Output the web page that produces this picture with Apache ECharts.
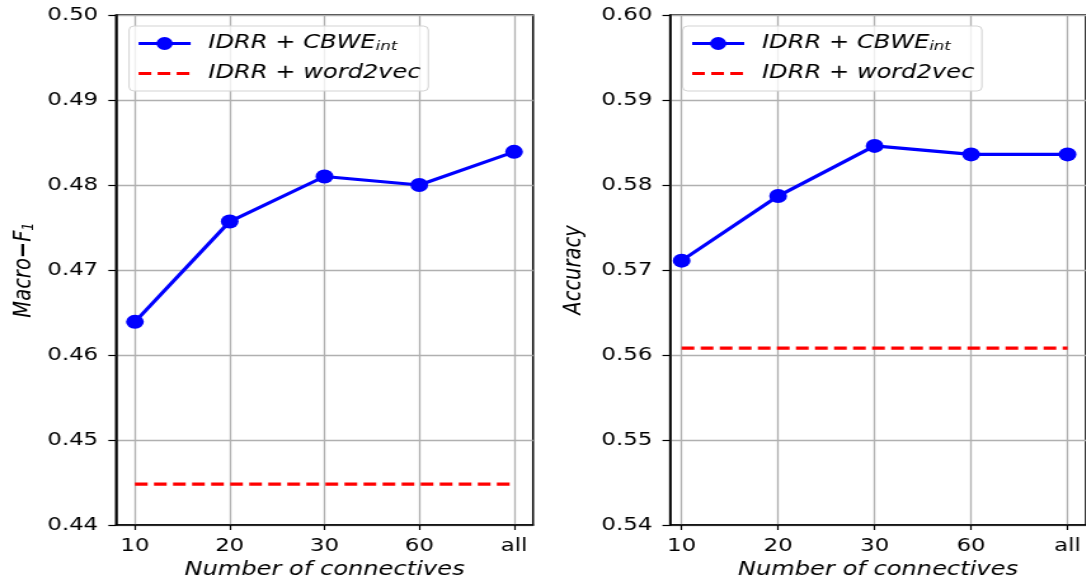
<!DOCTYPE html>
<html>
<head>
<meta charset="utf-8">
<script src="https://cdn.jsdelivr.net/npm/echarts@6/dist/echarts.min.js"></script>
<style>
  html, body { margin: 0; padding: 0; background: #fff; overflow: hidden; }
  .wrap { width: 1086px; height: 585px; overflow: hidden; }
  /* the reference is stretched sideways, so draw narrower and stretch */
  #chart { width: 855px; height: 585px; transform: scaleX(1.27); transform-origin: 0 0; }
</style>
</head>
<body>
<div class="wrap"><div id="chart"></div></div>
<script>
const categories = ['10', '20', '30', '60', 'all']
const f1Cbwe = [0.4639, 0.4757, 0.4810, 0.4800, 0.4839]
const f1W2v = [0.4448, 0.4448, 0.4448, 0.4448, 0.4448]
const accCbwe = [0.5711, 0.5787, 0.5846, 0.5836, 0.5836]
const accW2v = [0.5608, 0.5608, 0.5608, 0.5608, 0.5608]
const tickPos = [0, 1, 2, 3, 4]

const FONT = 'DejaVu Sans'
const NAME_CBWE = 'IDRR + CBWE_int'
const NAME_W2V = 'IDRR + word2vec'

const toPoints = arr => arr.map((v, i) => [i, v])

function makeX (gridIndex, min, max) {
  return {
    type: 'value',
    gridIndex: gridIndex,
    min: min,
    max: max,
    name: 'Number of connectives',
    nameLocation: 'middle',
    nameGap: 36,
    nameTextStyle: { fontFamily: FONT, fontStyle: 'italic', fontSize: 19, color: '#000' },
    axisLine: { show: true, onZero: false, lineStyle: { color: '#000', width: 1.5 } },
    axisTick: { show: true, customValues: tickPos, length: 5, lineStyle: { color: '#000', width: 1.2 } },
    axisLabel: {
      customValues: tickPos,
      formatter: v => categories[Math.round(v)],
      fontFamily: FONT,
      fontSize: 18,
      color: '#000',
      margin: 12
    },
    splitLine: { show: true, lineStyle: { color: '#b0b0b0', width: 1.3 } }
  }
}

function makeY (gridIndex, min, max, name, gap) {
  return {
    type: 'value',
    gridIndex: gridIndex,
    min: min,
    max: max,
    interval: 0.01,
    name: name,
    nameLocation: 'middle',
    nameGap: gap,
    nameTextStyle: {
      fontFamily: FONT,
      fontStyle: 'italic',
      fontSize: 19.5,
      color: '#000',
      rich: {
        i: { fontFamily: FONT, fontStyle: 'italic', fontSize: 19.5, color: '#000' },
        m: { fontFamily: FONT, fontWeight: 'bold', fontSize: 19.5, color: '#000' },
        s: { fontFamily: FONT, fontSize: 13, color: '#000', verticalAlign: 'bottom' }
      }
    },
    axisLine: { show: true, onZero: false, lineStyle: { color: '#000', width: 1.5 } },
    axisTick: { show: true, length: 6, lineStyle: { color: '#000', width: 1.2 } },
    axisLabel: {
      formatter: v => v.toFixed(2),
      fontFamily: FONT,
      fontSize: 18,
      color: '#000',
      margin: 14
    },
    splitLine: { show: true, lineStyle: { color: '#b0b0b0', width: 1.3 } }
  }
}

function makeLegend (left) {
  return {
    orient: 'vertical',
    left: left,
    top: 26,
    data: [
      { name: NAME_CBWE },
      { name: NAME_W2V, itemStyle: { opacity: 0 } }
    ],
    itemWidth: 41,
    itemHeight: 16,
    itemGap: 11,
    padding: [8, 6, 8, 6],
    backgroundColor: 'rgba(255,255,255,0.8)',
    borderColor: '#d3d3d3',
    borderWidth: 1,
    borderRadius: 4,
    selectedMode: false,
    lineStyle: { width: 3 },
    formatter: name => name === NAME_CBWE ? '{i|IDRR + CBWE}{s|int}' : '{i|IDRR + word2vec}',
    textStyle: {
      padding: [0, 0, 0, 9],
      rich: {
        i: { fontFamily: FONT, fontStyle: 'italic', fontSize: 19, color: '#000' },
        s: { fontFamily: FONT, fontStyle: 'italic', fontSize: 13, color: '#000', verticalAlign: 'bottom' }
      }
    }
  }
}

function cbweSeries (name, xi, data) {
  return {
    name: name,
    type: 'line',
    xAxisIndex: xi,
    yAxisIndex: xi,
    data: toPoints(data),
    symbol: 'circle',
    symbolSize: 14,
    itemStyle: { color: '#0000ff' },
    lineStyle: { color: '#0000ff', width: 3.2 }
  }
}

function w2vSeries (name, xi, data) {
  return {
    name: name,
    type: 'line',
    xAxisIndex: xi,
    yAxisIndex: xi,
    data: toPoints(data),
    symbol: 'none',
    showSymbol: false,
    itemStyle: { color: '#ff0000' },
    lineStyle: { color: '#ff0000', width: 3.2, type: [10, 5] }
  }
}

const myChart = echarts.init(document.getElementById('chart'))
const option = {
  animation: false,
  backgroundColor: '#fff',
  grid: [
    { left: 91.3, top: 15, width: 328.4, height: 511, show: true, borderColor: '#000', borderWidth: 1.5 },
    { left: 527.6, top: 15, width: 328.3, height: 511, show: true, borderColor: '#000', borderWidth: 1.5 }
  ],
  legend: [makeLegend(101.6), makeLegend(537.5)],
  xAxis: [makeX(0, -0.2, 4.2), makeX(1, -0.12, 4.19)],
  yAxis: [
    makeY(0, 0.44, 0.50, '{i|Macro}{m|−}{i|F}{s|1}', 62),
    makeY(1, 0.54, 0.60, '{i|Accuracy}', 66)
  ],
  series: [
    cbweSeries(NAME_CBWE, 0, f1Cbwe),
    w2vSeries(NAME_W2V, 0, f1W2v),
    cbweSeries(NAME_CBWE, 1, accCbwe),
    w2vSeries(NAME_W2V, 1, accW2v)
  ]
}
myChart.setOption(option)
</script>
</body>
</html>
